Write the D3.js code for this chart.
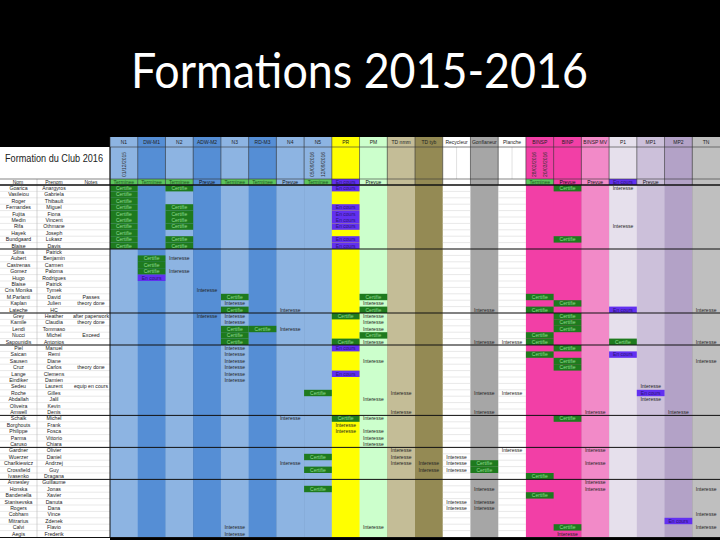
<!DOCTYPE html>
<html>
<head>
<meta charset="utf-8">
<script src="https://cdn.jsdelivr.net/npm/d3@7"></script>
<style>
body { margin: 0; background: #000; }
svg { display: block; }
</style>
</head>
<body>
<div id="sheet"></div>
<script>
// columns of the club sheet
const columns = ["N1", "DW-M1", "N2", "ADW-M2", "N3", "RD-M3", "N4", "N5", "PR", "PM",
  "TD nmm", "TD tyb", "Recycleur", "Gonflaneur", "Planche", "BINSP", "BINP", "BINSP MV",
  "P1", "MP1", "MP2", "TN"]
const colColors = ["#8db4e2", "#558ed5", "#8db4e2", "#558ed5", "#8db4e2", "#558ed5", "#8db4e2", "#8db4e2",
  "#ffff00", "#ccffcc", "#c4bd97", "#948a54", "#ffffff", "#a6a6a6", "#ffffff", "#f23fa6", "#f23fa6",
  "#f28ac8", "#e6e0ec", "#ccc0da", "#b3a2c7", "#bfbfbf"]
const statuses = ["Terminee", "Terminee", "Terminee", "Prevue", "Terminee", "Terminee", "Prevue", "Terminee",
  "En cours", "Prevue", "", "", "", "", "", "Terminee", "Prevue", "Prevue", "En cours", "Prevue", "", ""]

const nom = ["Goarica", "Vasileiou", "Roger", "Fernandes", "Fujita", "Medin", "Rifa", "Hayek", "Bundgaard", "Blaise",
  "Silna", "Aubert", "Castrenas", "Gomez", "Hugo", "Blaise", "Cris Monika", "M.Parlanti", "Kaplan", "Lateche",
  "Grey", "Kamile", "Lendi", "Nucci", "Sapounidis",
  "Piel", "Saican", "Sausen", "Cruz", "Lange", "Eindiker", "Sedeu", "Roche", "Abdallah", "Oliveira", "Amwell",
  "Schalk", "Borghouts", "Philippe", "Parma", "Caruso",
  "Gardner", "Wuerzer", "Charlkiewicz", "Crossfield", "Ivasenko",
  "Annesley", "Honska", "Bandenella", "Stanisevska", "Rogers", "Cobham", "Mitrarius", "Calvi", "Aegis"]
const prenom = ["Anargyros", "Gabriela", "Thibault", "Miguel", "Fiona", "Vincent", "Othmane", "Joseph", "Lukasz", "Davis",
  "Patrick", "Benjamin", "Carmen", "Paloma", "Rodrigues", "Patrick", "Tymek", "David", "Julien", "HC",
  "Heather", "Claudia", "Tommaso", "Michel", "Antonios",
  "Manuel", "Remi", "Diane", "Carlos", "Clemens", "Damien", "Laurent", "Gilles", "Jalil", "Kevin", "Denis",
  "Michel", "Frank", "Fosca", "Vittorio", "Chiara",
  "Olivier", "Daniel", "Andrzej", "Guy", "Dragana",
  "Guillaume", "Jonas", "Xavier", "Danuta", "Dana", "Vince", "Zdenek", "Flavio", "Frederik"]
const notes = [[17, "Passes"], [18, "theory done"], [20, "after paperwork"], [21, "theory done"],
  [23, "Exceed"], [28, "theory done"], [31, "equip en cours"]]
const groupStarts = [10, 20, 25, 36, 41, 46]

// row indexes per column
const certifie = [
  ["N1", [0, 1, 2, 3, 4, 5, 6, 7, 8, 9]],
  ["DW-M1", [11, 12, 13]],
  ["N2", [0, 3, 4, 5, 6, 8, 9]],
  ["N3", [17, 19, 22, 23, 24]],
  ["RD-M3", [22]],
  ["N5", [32, 42, 44, 47]],
  ["PR", [20, 24, 36]],
  ["PM", [17, 19, 23]],
  ["Gonflaneur", [43, 44]],
  ["BINSP", [17, 19, 23, 24, 26, 45, 48]],
  ["BINP", [0, 8, 18, 20, 21, 22, 25, 27, 28, 36, 53]],
  ["P1", [24]]
]
const enCours = [
  ["DW-M1", [14]],
  ["PR", [0, 3, 4, 5, 6, 8, 9, 25, 29]],
  ["P1", [19, 26]],
  ["MP1", [32]],
  ["MP2", [52]]
]
const interesse = [
  ["N2", [11, 13]],
  ["ADW-M2", [16, 20]],
  ["N3", [18, 20, 21, 25, 26, 27, 28, 29, 30, 53, 54]],
  ["N4", [19, 22, 36, 43]],
  ["PR", [37, 38]],
  ["PM", [18, 20, 21, 22, 24, 27, 33, 36, 38, 39, 40, 53]],
  ["TD nmm", [32, 35, 41, 42, 43]],
  ["TD tyb", [43, 44]],
  ["Recycleur", [42, 43, 44, 49, 50]],
  ["Gonflaneur", [19, 24, 32, 35, 47, 49, 50]],
  ["Planche", [24, 32, 41]],
  ["BINP", [54]],
  ["BINSP MV", [35, 41, 43, 46, 47]],
  ["P1", [0, 6]],
  ["MP1", [31, 33]],
  ["MP2", [35]],
  ["TN", [19, 24, 27, 47, 51, 53]]
]
const dates = [["N1", ["01/12/2015"]], ["N5", ["05/09/2016", "12/09/2016"]], ["BINSP", ["28/02/2016", "20/03/2016"]]]

const W = 720, H = 540
const svg = d3.select("#sheet").append("svg").attr("width", W).attr("height", H)
  .style("font-family", "'Liberation Sans', Arial, sans-serif")

svg.append("rect").attr("width", W).attr("height", H).attr("fill", "#000")

svg.append("text")
  .attr("x", 131).attr("y", 88)
  .attr("textLength", 457).attr("lengthAdjust", "spacingAndGlyphs")
  .attr("fill", "#fff")
  .style("font-family", "Lato, 'Open Sans', sans-serif")
  .style("font-size", "48px")
  .text("Formations 2015-2016")

const x = d3.scaleBand().domain(columns).range([110, 720])
const y = d3.scaleBand().domain(d3.range(nom.length)).range([185, 537])
const color = d3.scaleOrdinal().domain(columns).range(colColors)

const headTop = 137, headMid = 147, statusTop = 179, dataTop = y.range()[0]
const rh = y.bandwidth(), cw = x.bandwidth()

// left part
svg.append("rect").attr("x", 0).attr("y", headMid).attr("width", 110).attr("height", H - headMid).attr("fill", "#fff")
svg.append("text").attr("x", 5).attr("y", 162)
  .attr("textLength", 98).attr("lengthAdjust", "spacingAndGlyphs")
  .style("font-size", "10px").attr("fill", "#222").text("Formation du Club 2016")

// column backgrounds
svg.append("g").selectAll("rect").data(columns).join("rect")
  .attr("x", d => x(d)).attr("y", headTop)
  .attr("width", cw + 0.5).attr("height", y.range()[1] - headTop)
  .attr("fill", d => color(d))

// row grid lines (visible on white columns)
const grid = svg.append("g").attr("stroke", "#d0d0d0").attr("stroke-width", 0.5)
const whiteCols = columns.filter(c => color(c) === "#ffffff")
d3.range(nom.length).forEach(i => {
  grid.append("line").attr("x1", 0).attr("x2", 110).attr("y1", y(i)).attr("y2", y(i))
  whiteCols.forEach(c => {
    grid.append("line").attr("x1", x(c)).attr("x2", x(c) + cw).attr("y1", y(i)).attr("y2", y(i))
  })
})
svg.append("line").attr("x1", 37).attr("x2", 37).attr("y1", statusTop).attr("y2", 537)
  .attr("stroke", "#bbb").attr("stroke-width", 0.6)
whiteCols.forEach(c => {
  svg.append("line").attr("x1", x(c) + cw / 2).attr("x2", x(c) + cw / 2).attr("y1", headMid).attr("y2", statusTop)
    .attr("stroke", "#ccc").attr("stroke-width", 0.6)
})

// header text
svg.append("g").selectAll("text").data(columns).join("text")
  .attr("x", d => x(d) + cw / 2).attr("y", headTop + 5.5).attr("dy", "0.35em")
  .attr("text-anchor", "middle").style("font-size", "5px").attr("fill", "#222")
  .text(d => d)

dates.forEach(([c, ds]) => {
  ds.forEach((d, k) => {
    const cx = x(c) + (ds.length === 1 ? cw / 2 : cw * (0.3 + 0.4 * k))
    svg.append("text")
      .attr("transform", `translate(${cx},${statusTop - 2}) rotate(-90)`)
      .attr("dy", "0.35em").style("font-size", "5px").attr("fill", "#333").text(d)
  })
})

// status row
const statusStyle = {
  "Terminee": { bg: "#5cc45c", fg: "#1d5a1d" },
  "En cours": { bg: "#6230f0", fg: "#2a1470" },
  "Prevue": { bg: null, fg: "#111" }
}
const st = svg.append("g")
columns.forEach((c, i) => {
  const s = statuses[i]
  if (!s) return
  const sty = statusStyle[s]
  if (sty.bg) st.append("rect").attr("x", x(c)).attr("y", statusTop).attr("width", cw).attr("height", dataTop - statusTop).attr("fill", sty.bg)
  st.append("text").attr("x", x(c) + cw / 2).attr("y", (statusTop + dataTop) / 2).attr("dy", "0.35em")
    .attr("text-anchor", "middle").style("font-size", "5px").attr("fill", sty.fg).text(s)
})
;[["Nom", 18], ["Prenom", 54], ["Notes", 91]].forEach(([t, cx]) => {
  st.append("text").attr("x", cx).attr("y", (statusTop + dataTop) / 2).attr("dy", "0.35em")
    .attr("text-anchor", "middle").style("font-size", "5px").attr("fill", "#222").text(t)
})

// header lines
const hl = svg.append("g").attr("stroke", "#333").attr("stroke-width", 0.6)
columns.forEach(c => {
  hl.append("line").attr("x1", x(c)).attr("x2", x(c)).attr("y1", headTop).attr("y2", dataTop)
})
hl.append("line").attr("x1", 110).attr("x2", 720).attr("y1", headMid).attr("y2", headMid)
hl.append("line").attr("x1", 0).attr("x2", 720).attr("y1", statusTop).attr("y2", statusTop)

// names and notes
const names = svg.append("g").style("font-size", "5.2px").attr("fill", "#222").attr("text-anchor", "middle")
nom.forEach((n, i) => {
  names.append("text").attr("x", 18.5).attr("y", y(i) + rh / 2).attr("dy", "0.35em").text(n)
  names.append("text").attr("x", 54).attr("y", y(i) + rh / 2).attr("dy", "0.35em").text(prenom[i])
})
notes.forEach(([i, t]) => {
  names.append("text").attr("x", 91).attr("y", y(i) + rh / 2).attr("dy", "0.35em").text(t)
})

// marks
function drawMarks(list, label, bg, fg) {
  const g = svg.append("g")
  list.forEach(([c, rows]) => {
    rows.forEach(r => {
      if (bg) g.append("rect").attr("x", x(c)).attr("y", y(r)).attr("width", cw).attr("height", rh).attr("fill", bg)
      g.append("text").attr("x", x(c) + cw / 2).attr("y", y(r) + rh / 2).attr("dy", "0.35em")
        .attr("text-anchor", "middle").style("font-size", "5px").attr("fill", fg).text(label)
    })
  })
}
drawMarks(certifie, "Certifie", "#1e7a1e", "#8fdc8f")
drawMarks(enCours, "En cours", "#6230f0", "#2a1470")
drawMarks(interesse, "Interesse", null, "#222")

// thick separators
const sep = svg.append("g").attr("stroke", "#111")
sep.append("line").attr("x1", 0).attr("x2", 720).attr("y1", dataTop).attr("y2", dataTop).attr("stroke-width", 1.6)
groupStarts.forEach(i => {
  sep.append("line").attr("x1", 0).attr("x2", 720).attr("y1", y(i)).attr("y2", y(i)).attr("stroke-width", 1)
})
sep.append("line").attr("x1", 0).attr("x2", 720).attr("y1", 537.5).attr("y2", 537.5).attr("stroke-width", 1)
sep.append("line").attr("x1", 110).attr("x2", 110).attr("y1", headMid).attr("y2", 538).attr("stroke-width", 1)
</script>
</body>
</html>
